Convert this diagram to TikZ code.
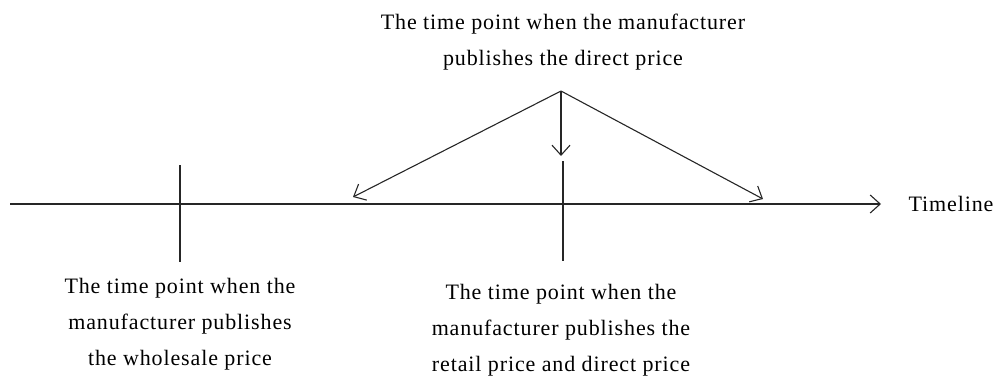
\documentclass[tikz,border=0pt]{standalone}
\usepackage{fontspec}
\setmainfont[LetterSpace=4]{Liberation Serif}
\usetikzlibrary{arrows.meta}
\begin{document}
\begin{tikzpicture}[x=1pt,y=-1pt,
  lbl/.style={align=center,inner sep=0pt,font=\fontsize{22}{36}\selectfont},
  ln/.style={line width=1.1pt,black!85},
  arr/.style={ln,-{Straight Barb[length=10pt,width=18pt,line width=1.1pt]}}]
\useasboundingbox (0,0) rectangle (995,375);
% timeline
\coordinate (t0) at (10,204);
\coordinate (t1) at (881,204);
\draw[arr] (t0) -- (t1);
\node[lbl] (tl) at (951,204) {Timeline};
% ticks
\coordinate (a1) at (180,165);
\coordinate (a2) at (180,262);
\draw[ln] (a1) -- (a2);
\coordinate (b1) at (563,161);
\coordinate (b2) at (563,261);
\draw[ln] (b1) -- (b2);
% top label
\node[lbl] (top) at (563,42) {The time point when the manufacturer\\publishes the direct price};
\coordinate (apex) at (561,91);
\coordinate (l) at (353,197);
\coordinate (m) at (561,156);
\coordinate (r) at (763,199);
\draw[arr] (apex) -- (l);
\draw[arr] (apex) -- (m);
\draw[arr] (apex) -- (r);
% bottom labels
\node[lbl] (wl) at (180,324) {The time point when the\\manufacturer publishes\\the wholesale price};
\node[lbl] (rt) at (561,330.5) {The time point when the\\manufacturer publishes the\\retail price and direct price};
\end{tikzpicture}
\end{document}
